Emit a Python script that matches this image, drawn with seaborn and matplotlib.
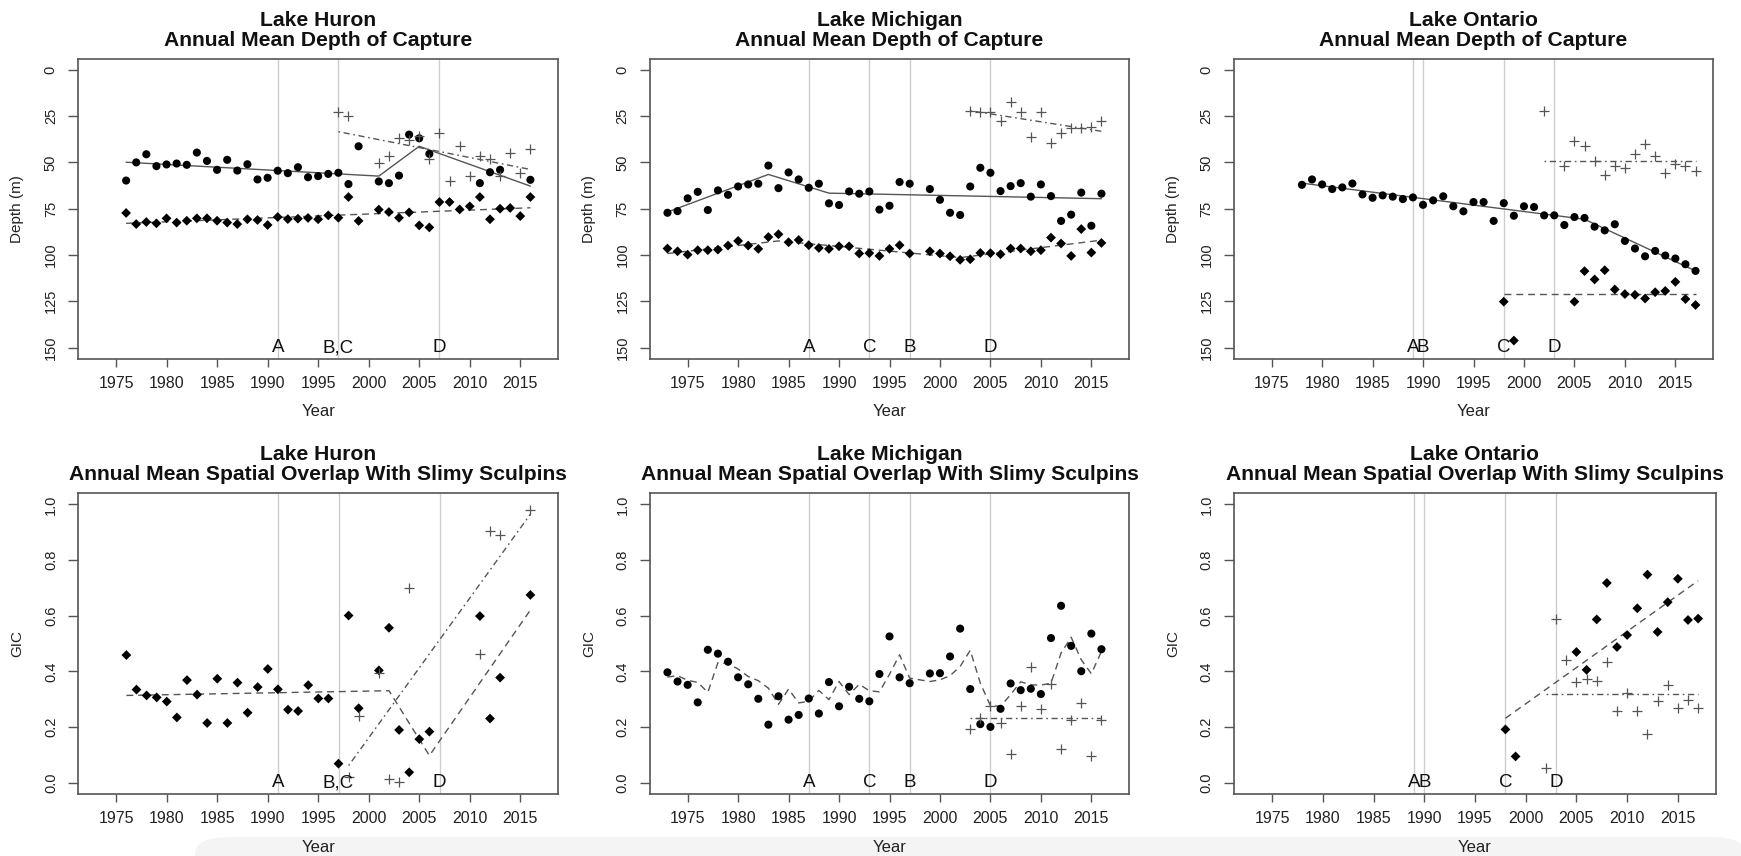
import numpy as np
import pandas as pd
import matplotlib
matplotlib.use("Agg")
import matplotlib.pyplot as plt
import seaborn as sns
from matplotlib.patches import FancyBboxPatch

NA = np.nan

# ---------------- Lake Huron ----------------
huron_years = list(range(1976, 2017))
huron_depth_circle = [59.8, 50.0, 45.6, 52.0, 51.1, 50.6, 51.3, 44.7, 49.2, 54.0,
                      48.6, 54.4, 51.0, 59.2, 58.3, 54.5, 55.8, 52.6, 58.0, 57.4,
                      56.2, 55.6, 61.7, 41.3, NA, 60.3, 61.2, 57.1, 35.0, 37.0,
                      45.4, NA, NA, NA, NA, 61.2, 55.3, 54.0, NA, NA, 59.4]
huron_depth_diamond = [77.3, 83.3, 82.2, 82.9, 80.2, 82.5, 81.5, 80.2, 80.2, 81.5,
                       82.5, 83.3, 80.7, 81.1, 83.8, 79.5, 80.6, 80.4, 80.0, 80.7,
                       78.6, 79.9, 68.7, 81.6, NA, 75.5, 76.8, 79.9, 77.0, 84.0,
                       85.1, 71.4, 71.4, 75.4, 73.7, 68.7, 80.7, 75.0, 74.6, 79.0, 68.7]
huron_plus_years = list(range(1997, 2017))
huron_depth_plus = [23.0, 25.1, NA, NA, 50.4, 46.3, 37.0, 38.0, 36.0, 48.0,
                    34.3, 60.3, 41.3, 57.4, 46.8, 48.0, 57.1, 44.9, 55.6, 42.7]
huron_depth_fit_circle_years = [1976, 2001, 2005, 2016]
huron_depth_fit_circle = [49.9, 57.4, 41.3, 62.8]
huron_depth_fit_diamond_years = [1976, 2016]
huron_depth_fit_diamond = [82.9, 74.5]
huron_depth_fit_plus_years = [1997, 2016]
huron_depth_fit_plus = [33.4, 53.8]

huron_gic_diamond = [0.459, 0.335, 0.314, 0.307, 0.292, 0.235, 0.369, 0.317, 0.215, 0.374,
                     0.215, 0.360, 0.252, 0.344, 0.409, 0.336, 0.263, 0.258, 0.351, 0.303,
                     0.303, 0.069, 0.601, 0.268, NA, 0.404, 0.557, 0.190, 0.038, 0.157,
                     0.184, NA, NA, NA, NA, 0.599, 0.231, 0.378, NA, NA, 0.675]
huron_gic_plus = [NA, 0.020, 0.239, NA, 0.394, 0.014, 0.002, 0.699, NA, NA,
                  NA, NA, NA, NA, 0.464, 0.906, 0.892, NA, NA, 0.980]
huron_gic_fit_diamond_years = [1976, 2002, 2006, 2016]
huron_gic_fit_diamond = [0.314, 0.331, 0.098, 0.621]
huron_gic_fit_plus_years = [1998, 2016]
huron_gic_fit_plus = [0.062, 0.965]
huron_event_years = [1991, 1997, 2007]
huron_event_labels = ["A", "B,C", "D"]

# ---------------- Lake Michigan ----------------
michigan_years = list(range(1973, 2017))
michigan_depth_circle = [77.2, 76.3, 69.4, 65.9, 75.7, 65.1, 67.5, 63.0, 61.9, 61.5,
                         51.7, 63.9, 55.4, 59.2, 63.7, 61.5, 72.1, 73.0, 65.7, 66.9,
                         65.7, 75.5, 73.4, 60.6, 61.5, NA, 64.4, 70.2, 77.2, 78.4,
                         63.0, 52.9, 55.6, 65.5, 62.8, 61.2, 68.5, 61.9, 68.2, 81.6,
                         78.2, 66.3, 84.2, 66.9]
michigan_depth_diamond = [96.5, 98.0, 99.8, 97.4, 97.4, 97.1, 94.9, 92.4, 94.9, 96.7,
                          90.3, 88.8, 93.1, 91.9, 94.7, 96.2, 96.7, 95.3, 95.3, 99.2,
                          99.0, 100.5, 96.7, 94.7, 99.2, NA, 98.0, 99.2, 100.7, 102.6,
                          102.3, 98.9, 99.0, 99.6, 96.5, 96.5, 98.0, 97.4, 90.6, 93.8,
                          100.5, 86.0, 98.7, 93.5]
michigan_plus_years = list(range(2003, 2017))
michigan_depth_plus = [22.1, 22.6, 23.0, 27.8, 17.2, 22.6, 36.4, 23.0, 39.5, 34.1,
                       31.4, 31.4, 31.0, 27.5]
michigan_depth_fit_circle_years = [1973, 1983, 1989, 2016]
michigan_depth_fit_circle = [76.8, 56.5, 66.6, 69.6]
michigan_depth_fit_diamond_years = [1973, 1984, 2002, 2016]
michigan_depth_fit_diamond = [99.2, 92.4, 101.4, 92.0]
michigan_depth_fit_plus_years = [2003, 2016]
michigan_depth_fit_plus = [22.1, 33.2]

michigan_gic_circle = [0.397, 0.364, 0.352, 0.289, 0.478, 0.464, 0.435, 0.379, 0.354, 0.302,
                       0.209, 0.311, 0.227, 0.244, 0.303, 0.249, 0.362, 0.275, 0.345, 0.302,
                       0.293, 0.391, 0.526, 0.379, 0.358, NA, 0.393, 0.394, 0.454, 0.554,
                       0.337, 0.211, 0.201, 0.266, 0.357, 0.333, 0.338, 0.319, 0.520, 0.636,
                       0.492, 0.401, 0.536, 0.480]
michigan_gic_fit_circle = [0.380, 0.385, 0.368, 0.361, 0.325, 0.432, 0.428, 0.409, 0.382, 0.367,
                           0.340, 0.282, 0.337, 0.287, 0.293, 0.332, 0.299, 0.364, 0.317, 0.354,
                           0.331, 0.327, 0.390, 0.460, 0.376, NA, 0.364, 0.370, 0.385, 0.418,
                           0.476, 0.358, 0.277, 0.275, 0.317, 0.363, 0.352, 0.351, 0.358, 0.466,
                           0.523, 0.442, 0.392, 0.472]
michigan_gic_plus = [0.194, 0.233, 0.275, 0.215, 0.102, 0.277, 0.416, 0.265, 0.356, 0.122,
                     0.227, 0.287, 0.096, 0.225]
michigan_gic_fit_plus_years = [2003, 2016]
michigan_gic_fit_plus = [0.233, 0.233]
michigan_event_years = [1987, 1993, 1997, 2005]
michigan_event_labels = ["A", "C", "B", "D"]

# ---------------- Lake Ontario ----------------
ontario_years = list(range(1978, 2018))
ontario_depth_circle = [62.1, 59.2, 61.9, 64.4, 63.5, 61.4, 67.3, 69.1, 67.8, 68.5,
                        69.8, 68.9, 72.9, 70.5, 68.3, 73.7, 76.4, 71.4, 71.4, 81.6,
                        72.0, 78.8, 73.7, 74.1, 78.6, 78.6, 83.8, 79.5, 80.0, 84.7,
                        86.7, 83.4, 92.4, 96.5, 100.7, 97.8, 100.3, 101.9, 105.0, 108.6]
ontario_diamond_years = list(range(1998, 2018))
ontario_depth_diamond = [125.2, 146.2, NA, NA, NA, NA, NA, 125.2, 108.7, 113.2,
                         108.2, 118.6, 121.1, 121.5, 123.5, 120.1, 119.4, 114.5, 123.8, 127.0]
ontario_plus_years = list(range(2002, 2018))
ontario_depth_plus = [22.1, NA, 52.0, 38.2, 41.3, 49.0, 56.7, 51.7, 52.9, 45.4,
                      40.0, 46.3, 55.6, 50.8, 52.0, 54.4]
ontario_depth_fit_circle_years = [1978, 2006, 2017]
ontario_depth_fit_circle = [61.2, 80.7, 108.6]
ontario_depth_fit_diamond_years = [1998, 2017]
ontario_depth_fit_diamond = [121.1, 121.1]
ontario_depth_fit_plus_years = [2002, 2017]
ontario_depth_fit_plus = [49.3, 49.3]

ontario_gic_diamond = [0.192, 0.095, NA, NA, NA, NA, NA, 0.470, 0.406, 0.587,
                       0.718, 0.488, 0.531, 0.627, 0.748, 0.542, 0.649, 0.733, 0.585, 0.590]
ontario_gic_plus = [0.054, 0.587, 0.442, 0.364, 0.374, 0.365, 0.433, 0.257, 0.323, 0.258,
                    0.175, 0.294, 0.351, 0.270, 0.299, 0.269]
ontario_gic_fit_diamond_years = [1998, 2017]
ontario_gic_fit_diamond = [0.232, 0.726]
ontario_gic_fit_plus_years = [2002, 2017]
ontario_gic_fit_plus = [0.320, 0.320]
ontario_event_years = [1989, 1990, 1998, 2003]
ontario_event_labels = ["A", "B", "C", "D"]

x_ticks = [1975, 1980, 1985, 1990, 1995, 2000, 2005, 2010, 2015]
depth_ticks = [0, 25, 50, 75, 100, 125, 150]
gic_ticks = [0.0, 0.2, 0.4, 0.6, 0.8, 1.0]

# ---------------- style ----------------
sns.set_style("white")
plt.rcParams["font.family"] = ["Liberation Sans", "DejaVu Sans"]

LINE_COL = "#555555"
VLINE_COL = "#cdcdcd"
DASHED = (0, (5, 3.5))
DOTDASH = (0, (1.2, 2.6, 4.5, 2.6))

W, H = 1741, 856
fig = plt.figure(figsize=(W / 100, H / 100), dpi=100)

# faint grey band at the bottom of the source image (behind everything)
fig.patches.append(FancyBboxPatch((195 / W, -0.02), (W - 190) / W, 36 / H,
                                  boxstyle="round,pad=0,rounding_size=0.02",
                                  transform=fig.transFigure, facecolor="#f4f4f4",
                                  edgecolor="none", zorder=-5))


def box(l, t, r, b):
    return [l / W, 1 - b / H, (r - l) / W, (b - t) / H]


def scatter(ax, xs, ys, kind):
    df = pd.DataFrame({"Year": xs, "v": ys}).dropna()
    if kind == "circle":
        sns.scatterplot(data=df, x="Year", y="v", ax=ax, marker="o", s=34,
                        color="black", edgecolor="none", linewidth=0, zorder=4, legend=False)
    elif kind == "diamond":
        sns.scatterplot(data=df, x="Year", y="v", ax=ax, marker="D", s=25,
                        color="black", edgecolor="none", linewidth=0, zorder=4, legend=False)
    else:
        sns.scatterplot(data=df, x="Year", y="v", ax=ax, marker="+", s=60,
                        color=LINE_COL, linewidth=0.9, zorder=4, legend=False)


def line(ax, xs, ys, ls):
    df = pd.DataFrame({"Year": xs, "v": ys}).dropna()
    sns.lineplot(data=df, x="Year", y="v", ax=ax, color=LINE_COL, linewidth=1.0,
                 linestyle=ls, estimator=None, sort=True, legend=False, zorder=3)


def setup(ax, title, ticks, ylim, yfmt, events, labels, label_y):
    for ev in events:
        ax.axvline(ev, color=VLINE_COL, linewidth=1.0, zorder=1)
    for ev, lab in zip(events, labels):
        ax.text(ev, label_y, lab, ha="center", va="center", fontsize=13.5,
                color="#111111", zorder=5)
    ax.set_xlim(1971.24, 2018.76)
    ax.set_ylim(*ylim)
    ax.set_xticks(x_ticks)
    ax.set_xticklabels([str(t) for t in x_ticks])
    ax.set_yticks(ticks)
    ax.set_yticklabels([yfmt(t) for t in ticks])
    ax.tick_params(axis="x", length=6, width=1.0, color="#555555", pad=6.5,
                   labelsize=11.5, labelcolor="#222222", direction="out", bottom=True)
    ax.tick_params(axis="y", length=7, width=1.0, color="#555555", pad=7.5,
                   labelsize=10.5, labelcolor="#222222", direction="out", left=True,
                   labelrotation=90)
    for lab in ax.get_yticklabels():
        lab.set_va("center")
    for sp in ax.spines.values():
        sp.set_visible(True)
        sp.set_color("#555555")
        sp.set_linewidth(1.2)
    ax.set_title(title, fontsize=15.2, fontweight="bold", pad=9.5, linespacing=1.05,
                 color="#111111")
    ax.set_facecolor("white")
    ax.grid(False)


def finish(ax, ylabel):
    ax.set_xlabel("Year", fontsize=12, color="#222222")
    ax.set_ylabel(ylabel, fontsize=11, color="#222222")
    ax.xaxis.set_label_coords(0.5, -0.152)
    ax.yaxis.set_label_coords(-0.112, 0.5)


depth_fmt = lambda t: f"{t:d}"
gic_fmt = lambda t: f"{t:.1f}"
DEPTH_LIM = (156, -6)
GIC_LIM = (-0.04, 1.04)

# ---- Huron depth
ax = fig.add_axes(box(78, 58.7, 558.3, 358.7))
setup(ax, "Lake Huron\nAnnual Mean Depth of Capture", depth_ticks, DEPTH_LIM,
      depth_fmt, huron_event_years, huron_event_labels, 150)
line(ax, huron_depth_fit_circle_years, huron_depth_fit_circle, "-")
line(ax, huron_depth_fit_diamond_years, huron_depth_fit_diamond, DASHED)
line(ax, huron_depth_fit_plus_years, huron_depth_fit_plus, DOTDASH)
scatter(ax, huron_years, huron_depth_circle, "circle")
scatter(ax, huron_years, huron_depth_diamond, "diamond")
scatter(ax, huron_plus_years, huron_depth_plus, "plus")
finish(ax, "Depth (m)")

# ---- Michigan depth
ax = fig.add_axes(box(649.7, 58.7, 1129.3, 358.7))
setup(ax, "Lake Michigan\nAnnual Mean Depth of Capture", depth_ticks, DEPTH_LIM,
      depth_fmt, michigan_event_years, michigan_event_labels, 150)
line(ax, michigan_depth_fit_circle_years, michigan_depth_fit_circle, "-")
line(ax, michigan_depth_fit_diamond_years, michigan_depth_fit_diamond, DASHED)
line(ax, michigan_depth_fit_plus_years, michigan_depth_fit_plus, DOTDASH)
scatter(ax, michigan_years, michigan_depth_circle, "circle")
scatter(ax, michigan_years, michigan_depth_diamond, "diamond")
scatter(ax, michigan_plus_years, michigan_depth_plus, "plus")
finish(ax, "Depth (m)")

# ---- Ontario depth
ax = fig.add_axes(box(1233.7, 58.7, 1713.3, 358.7))
setup(ax, "Lake Ontario\nAnnual Mean Depth of Capture", depth_ticks, DEPTH_LIM,
      depth_fmt, ontario_event_years, ontario_event_labels, 150)
line(ax, ontario_depth_fit_circle_years, ontario_depth_fit_circle, "-")
line(ax, ontario_depth_fit_diamond_years, ontario_depth_fit_diamond, DASHED)
line(ax, ontario_depth_fit_plus_years, ontario_depth_fit_plus, DOTDASH)
scatter(ax, ontario_years, ontario_depth_circle, "circle")
scatter(ax, ontario_diamond_years, ontario_depth_diamond, "diamond")
scatter(ax, ontario_plus_years, ontario_depth_plus, "plus")
finish(ax, "Depth (m)")

# ---- Huron GIC
ax = fig.add_axes(box(78.3, 493.3, 558.3, 794))
setup(ax, "Lake Huron\nAnnual Mean Spatial Overlap With Slimy Sculpins", gic_ticks,
      GIC_LIM, gic_fmt, huron_event_years, huron_event_labels, 0.0)
line(ax, huron_gic_fit_diamond_years, huron_gic_fit_diamond, DASHED)
line(ax, huron_gic_fit_plus_years, huron_gic_fit_plus, DOTDASH)
scatter(ax, huron_years, huron_gic_diamond, "diamond")
scatter(ax, huron_plus_years, huron_gic_plus, "plus")
finish(ax, "GIC")

# ---- Michigan GIC
ax = fig.add_axes(box(649.7, 493.3, 1129.3, 794))
setup(ax, "Lake Michigan\nAnnual Mean Spatial Overlap With Slimy Sculpins", gic_ticks,
      GIC_LIM, gic_fmt, michigan_event_years, michigan_event_labels, 0.0)
line(ax, michigan_years, michigan_gic_fit_circle, DASHED)
line(ax, michigan_gic_fit_plus_years, michigan_gic_fit_plus, DOTDASH)
scatter(ax, michigan_years, michigan_gic_circle, "circle")
scatter(ax, michigan_plus_years, michigan_gic_plus, "plus")
finish(ax, "GIC")

# ---- Ontario GIC
ax = fig.add_axes(box(1234, 493.3, 1716, 794))
setup(ax, "Lake Ontario\nAnnual Mean Spatial Overlap With Slimy Sculpins", gic_ticks,
      GIC_LIM, gic_fmt, ontario_event_years, ontario_event_labels, 0.0)
line(ax, ontario_gic_fit_diamond_years, ontario_gic_fit_diamond, DASHED)
line(ax, ontario_gic_fit_plus_years, ontario_gic_fit_plus, DOTDASH)
scatter(ax, ontario_diamond_years, ontario_gic_diamond, "diamond")
scatter(ax, ontario_plus_years, ontario_gic_plus, "plus")
finish(ax, "GIC")

fig.savefig("out.png", dpi=100, facecolor="white")
